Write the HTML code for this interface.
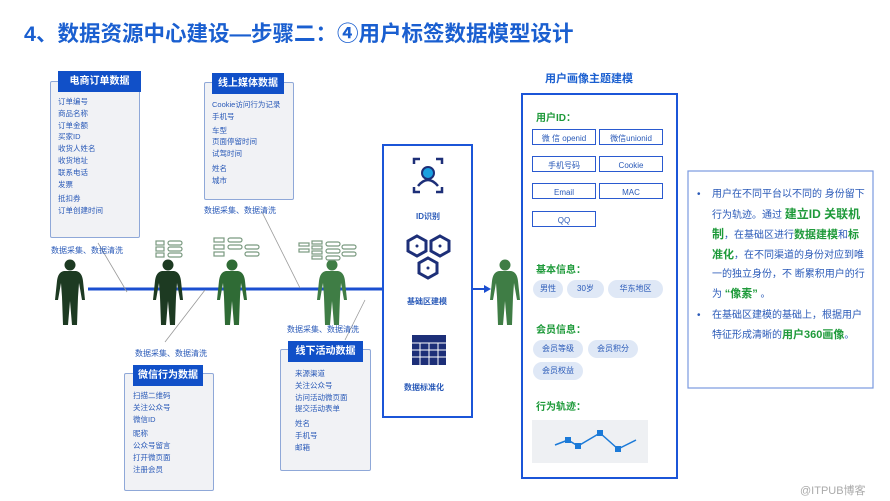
<!DOCTYPE html>
<html><head><meta charset="utf-8"><style>
body{margin:0;width:890px;height:501px;background:#fff;position:relative;overflow:hidden;font-family:"Liberation Sans","Noto Sans CJK SC",sans-serif}
.a{position:absolute}
.box{position:absolute;border:1.5px solid #8fa8d8;background:#f1f2f5;border-radius:2px}
.hd{position:absolute;background:#1150c8;color:#fff;font-size:10px;font-weight:bold;text-align:center;line-height:21px}
.li{position:absolute;font-size:7.5px;color:#2a5ab8;line-height:11.8px}
.cap{position:absolute;font-size:8px;color:#2a5ab8}
.tag{position:absolute;border:1.5px solid #2a5ad0;font-size:8px;color:#2a5ab8;text-align:center;line-height:18px;height:14px;overflow:hidden}
.pill{position:absolute;background:#dfe8f6;border-radius:10px;font-size:8px;color:#2a5ab8;text-align:center;line-height:18px;height:18px}
.gh{position:absolute;font-size:10px;font-weight:bold;color:#1e9a3a}
</style></head><body>
<div class="a" style="left:24px;top:17px;font-size:21.5px;font-weight:bold;color:#1a5fd0">4、数据资源中心建设—步骤二：④用户标签数据模型设计</div>

<svg class="a" style="left:0;top:0" width="890" height="501">
<defs><g id="p"><circle cx="0" cy="-28" r="5.5"/><path d="M-6,-22 L6,-22 Q12,-21 13,-12 L15,7 L12,7 L9,-10 L8,4 L7,32 L2,32 L0,8 L-2,32 L-7,32 L-8,4 L-9,-10 L-12,7 L-15,7 L-13,-12 Q-12,-21 -6,-22Z"/></g></defs>
<line x1="88" y1="289" x2="382" y2="289" stroke="#1b4fd0" stroke-width="3"/>
<line x1="472" y1="289" x2="485" y2="289" stroke="#1b4fd0" stroke-width="2"/>
<path d="M484,285 L491,289 L484,293Z" fill="#1b4fd0"/>
<g stroke="#999" stroke-width="0.8"><line x1="98" y1="243" x2="127" y2="292"/><line x1="262" y1="212" x2="300" y2="288"/><line x1="165" y1="342" x2="205" y2="290"/><line x1="345" y1="340" x2="365" y2="300"/></g>
<g fill="#1d3a22"><use href="#p" transform="translate(70,293)"/><use href="#p" transform="translate(168,293)"/></g>
<g fill="#2f6b35"><use href="#p" transform="translate(232,293)"/></g>
<g fill="#3f7d45"><use href="#p" transform="translate(332,293)"/><use href="#p" transform="translate(505,293)"/></g>
<g fill="none" stroke="#7a9a80" stroke-width="1.2">
<rect x="156" y="241" width="8" height="4"/><rect x="156" y="247" width="8" height="4"/><rect x="156" y="253" width="8" height="4"/>
<rect x="168" y="241" width="14" height="4" rx="2"/><rect x="168" y="247" width="14" height="4" rx="2"/><rect x="168" y="253" width="14" height="4" rx="2"/>
<rect x="214" y="238" width="10" height="4"/><rect x="214" y="245" width="10" height="4"/><rect x="214" y="252" width="10" height="4"/>
<rect x="228" y="238" width="14" height="4" rx="2"/><rect x="228" y="245" width="14" height="4" rx="2"/><rect x="245" y="245" width="14" height="4" rx="2"/><rect x="245" y="252" width="14" height="4" rx="2"/>
<rect x="299" y="243" width="10" height="3"/><rect x="299" y="249" width="10" height="3"/><rect x="312" y="241" width="10" height="3"/><rect x="312" y="246" width="10" height="3"/><rect x="312" y="251" width="10" height="3"/><rect x="312" y="256" width="10" height="3"/>
<rect x="326" y="242" width="14" height="4" rx="2"/><rect x="326" y="249" width="14" height="4" rx="2"/><rect x="326" y="256" width="14" height="4" rx="2"/><rect x="342" y="245" width="14" height="4" rx="2"/><rect x="342" y="252" width="14" height="4" rx="2"/>
</g>
<rect x="383" y="145" width="89" height="272" fill="#fff" stroke="#1b55d8" stroke-width="2"/>
<g stroke="#1d2f78" stroke-width="2.5" fill="none"><path d="M414,164 v-5 h6 M436,159 h6 v5 M414,187 v5 h6 M436,192 h6 v-5"/><path d="M418,186 q10,-12 20,0"/></g>
<circle cx="428" cy="173" r="6" fill="#1aa0e0" stroke="#1d2f78" stroke-width="2"/>
<g stroke="#1d2f78" stroke-width="3" fill="#fff">
<polygon points="417,236 426,241 426,251 417,256 408,251 408,241"/><polygon points="440,236 449,241 449,251 440,256 431,251 431,241"/><polygon points="428,258 437,263 437,273 428,278 419,273 419,263"/></g>
<g fill="#1d2f78"><circle cx="417" cy="246" r="1.5"/><circle cx="440" cy="246" r="1.5"/><circle cx="428" cy="268" r="1.5"/></g>
<rect x="412" y="335" width="34" height="30" fill="#1d2f78"/>
<g stroke="#fff" stroke-width="1"><line x1="412" y1="343" x2="446" y2="343"/><line x1="412" y1="350" x2="446" y2="350"/><line x1="412" y1="357" x2="446" y2="357"/><line x1="420" y1="343" x2="420" y2="365"/><line x1="429" y1="343" x2="429" y2="365"/><line x1="438" y1="343" x2="438" y2="365"/></g>
<rect x="522" y="94" width="155" height="384" fill="#fff" stroke="#1b55d8" stroke-width="2"/>
<rect x="532" y="420" width="116" height="43" fill="#eef0f3"/>
<polyline points="555,445 568,440 578,446 600,433 618,449 636,440" fill="none" stroke="#1b7ad8" stroke-width="1.5"/>
<g fill="#1b7ad8"><rect x="565" y="437" width="6" height="6"/><rect x="575" y="443" width="6" height="6"/><rect x="597" y="430" width="6" height="6"/><rect x="615" y="446" width="6" height="6"/></g>
<rect x="688" y="171" width="185" height="217" fill="#fff" stroke="#7a9ae0" stroke-width="1.2"/>
</svg>

<div class="box" style="left:50px;top:81px;width:88px;height:155px"></div>
<div class="hd" style="left:58px;top:71px;width:83px">电商订单数据</div>
<div class="li" style="left:58px;top:96px">订单编号<br>商品名称<br>订单金额<br>买家ID<br>收货人姓名<br>收货地址<br>联系电话<br>发票<br><span style="display:block;height:3px"></span>抵扣券<br>订单创建时间</div>

<div class="box" style="left:204px;top:82px;width:88px;height:116px"></div>
<div class="hd" style="left:212px;top:73px;width:72px">线上媒体数据</div>
<div class="li" style="left:212px;top:99px">Cookie访问行为记录<br>手机号<br><span style="display:block;height:2px"></span>车型<br>页面停留时间<br>试驾时间<br><span style="display:block;height:3px"></span>姓名<br>城市</div>

<div class="box" style="left:124px;top:373px;width:88px;height:116px"></div>
<div class="hd" style="left:133px;top:365px;width:70px">微信行为数据</div>
<div class="li" style="left:133px;top:390px">扫描二维码<br>关注公众号<br>微信ID<br><span style="display:block;height:3px"></span>昵称<br>公众号留言<br>打开微页面<br>注册会员</div>

<div class="box" style="left:280px;top:349px;width:89px;height:120px"></div>
<div class="hd" style="left:288px;top:341px;width:75px">线下活动数据</div>
<div class="li" style="left:295px;top:368px">来源渠道<br>关注公众号<br>访问活动微页面<br>提交活动表单<br><span style="display:block;height:3px"></span>姓名<br>手机号<br>邮箱</div>

<div class="cap" style="left:51px;top:245px">数据采集、数据清洗</div>
<div class="cap" style="left:204px;top:205px">数据采集、数据清洗</div>
<div class="cap" style="left:135px;top:348px">数据采集、数据清洗</div>
<div class="cap" style="left:287px;top:324px">数据采集、数据清洗</div>

<div class="cap" style="left:416px;top:211px;font-weight:bold">ID识别</div>
<div class="cap" style="left:407px;top:296px;font-weight:bold">基础区建模</div>
<div class="cap" style="left:404px;top:382px;font-weight:bold">数据标准化</div>

<div class="a" style="left:545px;top:70px;font-size:11px;font-weight:bold;color:#1a5fd0">用户画像主题建模</div>
<div class="gh" style="left:536px;top:109px">用户ID：</div>
<div class="tag" style="left:532px;top:129px;width:62px">微 信 openid</div>
<div class="tag" style="left:599px;top:129px;width:62px">微信unionid</div>
<div class="tag" style="left:532px;top:156px;width:62px">手机号码</div>
<div class="tag" style="left:599px;top:156px;width:62px">Cookie</div>
<div class="tag" style="left:532px;top:183px;width:62px">Email</div>
<div class="tag" style="left:599px;top:183px;width:62px">MAC</div>
<div class="tag" style="left:532px;top:211px;width:62px">QQ</div>
<div class="gh" style="left:536px;top:261px">基本信息：</div>
<div class="pill" style="left:533px;top:280px;width:30px">男性</div>
<div class="pill" style="left:567px;top:280px;width:37px">30岁</div>
<div class="pill" style="left:608px;top:280px;width:55px">华东地区</div>
<div class="gh" style="left:536px;top:321px">会员信息：</div>
<div class="pill" style="left:533px;top:340px;width:50px">会员等级</div>
<div class="pill" style="left:588px;top:340px;width:50px">会员积分</div>
<div class="pill" style="left:533px;top:362px;width:50px">会员权益</div>
<div class="gh" style="left:536px;top:398px">行为轨迹：</div>

<div class="a" style="left:697px;top:185px;width:172px;font-size:10px;line-height:19.5px;color:#2a5ab8">
<div style="position:relative;padding-left:15px"><span style="position:absolute;left:0">•</span>用户在不同平台以不同的 身份留下行为轨迹。通过 <b style="color:#1e9a3a;font-size:12px">建立ID 关联机制</b>，在基础区进行<b style="color:#1e9a3a;font-size:11px">数据建模</b>和<b style="color:#1e9a3a;font-size:11px">标准化</b>，在不同渠道的身份对应到唯一的独立身份，不 断累积用户的行为 <b style="color:#1e9a3a;font-size:11px">“像素”</b> 。</div>
<div style="position:relative;padding-left:15px;margin-top:2px"><span style="position:absolute;left:0">•</span>在基础区建模的基础上，根据用户特征形成清晰的<b style="color:#1e9a3a;font-size:11px">用户360画像</b>。</div>
</div>
<div class="a" style="left:800px;top:482px;font-size:11px;color:#aaa">@ITPUB博客</div>
</body></html>
